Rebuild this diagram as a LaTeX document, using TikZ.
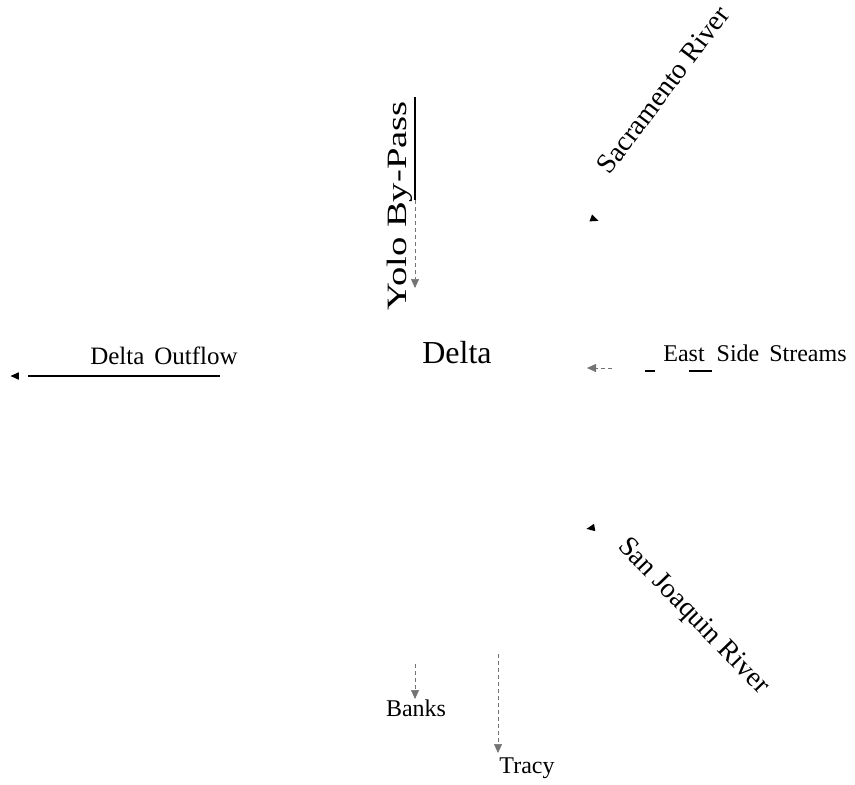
\documentclass[tikz,border=0pt]{standalone}
\usepackage{fontspec}
\setmainfont{Liberation Serif}
\usetikzlibrary{arrows.meta}
\begin{document}
\begin{tikzpicture}[x=1pt,y=-1pt,
  lbl/.style={font=\fontsize{24}{28}\selectfont, inner sep=0pt},
  rlbl/.style={font=\fontsize{28}{32}\selectfont, inner sep=0pt},
  tip/.style={-{Triangle[length=9pt,width=8pt]}},
  flow/.style={line width=1.2pt},
  faint/.style={line width=0.5pt, dash pattern=on 4pt off 3pt, black!55}]
\useasboundingbox (0,0) rectangle (855,785);

% central node
\node[font=\fontsize{32}{36}\selectfont, inner sep=0pt] (delta) at (457,353) {Delta};

% inflows and outflows
\node[rlbl, rotate=90, xscale=1.38] (yolo) at (400,206) {Yolo By-Pass};
\node[rlbl, rotate=53] (sac) at (663,90) {Sacramento River};
\node[lbl] (east) at (755,353) {East\hspace{12pt}Side\hspace{10pt}Streams};
\node[rlbl, rotate=-46] (sjr) at (693,617) {San Joaquin River};
\node[font=\fontsize{25}{29}\selectfont, inner sep=0pt] (outflow) at (164,356) {Delta\hspace{10pt}Outflow};
\node[lbl] (banks) at (416,708) {Banks};
\node[lbl] (tracy) at (527,768) {Tracy};

% end points of the connectors
\coordinate (yoloA) at (415,97);
\coordinate (yoloB) at (415,200);
\coordinate (yoloC) at (415,288);
\coordinate (sacA) at (583,215);
\coordinate (sacB) at (599,221);
\coordinate (eastA) at (612,368);
\coordinate (eastB) at (587,368);
\coordinate (sjrA) at (603,526);
\coordinate (sjrB) at (586,529);
\coordinate (outA) at (220,376);
\coordinate (outB) at (10,376);
\coordinate (banksA) at (415,664);
\coordinate (banksB) at (415,699);
\coordinate (tracyA) at (498,654);
\coordinate (tracyB) at (498,753);

% Yolo By-Pass
\draw[flow] (yoloA) -- (yoloB);
\draw[faint, tip] (yoloB) -- (yoloC);
% Sacramento River
\draw[draw opacity=0, tip] (sacA) -- (sacB);
% East Side Streams
\draw[faint, tip] (eastA) -- (eastB);
\draw[line width=2.4pt] (645,371) -- (655,371);
\draw[line width=2.4pt] (689,371) -- (712,371);
% San Joaquin River
\draw[draw opacity=0, tip] (sjrA) -- (sjrB);
% Delta Outflow
\draw[flow] (outA) -- (28,376);
\draw[draw opacity=0, tip] (28,376) -- (outB);
% exports
\draw[faint, tip] (banksA) -- (banksB);
\draw[faint, tip] (tracyA) -- (tracyB);
\end{tikzpicture}
\end{document}
